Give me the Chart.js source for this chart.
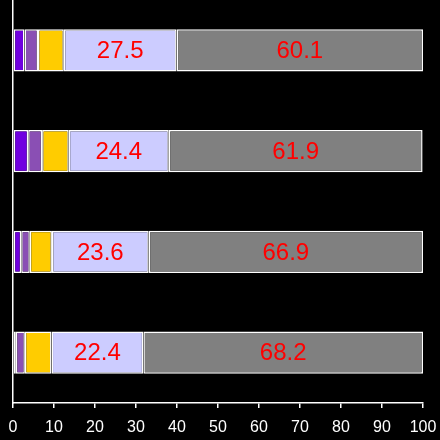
<!DOCTYPE html>
<html>
<head>
<meta charset="utf-8">
<script src="https://cdn.jsdelivr.net/npm/chart.js@4"></script>
<style>
  html, body { margin: 0; padding: 0; background: #000; }
  #wrap { width: 440px; height: 440px; }
</style>
</head>
<body>
<div id="wrap"><canvas id="chart"></canvas></div>
<script>
// categories (top to bottom), no visible labels in the picture
const categories = ['1', '2', '3', '4'];

// segment values per bar, left to right
const seriesA = [2.8, 3.7, 2.0, 0.7];
const seriesB = [3.3, 3.4, 2.1, 2.2];
const seriesC = [6.3, 6.5, 5.4, 6.5];
const seriesD = [27.5, 24.4, 23.6, 22.4];
const seriesE = [60.1, 61.9, 66.9, 68.2];

const xTicks = [0, 10, 20, 30, 40, 50, 60, 70, 80, 90, 100];

const colors = ['#7000e0', '#8a4fb4', '#ffcc00', '#ccccff', '#808080'];
const labelled = [false, false, false, true, true];

// draws the red numbers in the middle of the two big segments
const valueLabels = {
    id: 'valueLabels',
    afterDatasetsDraw(chart) {
        const ctx = chart.ctx;
        ctx.save();
        ctx.font = '24px "Liberation Sans", Arial, sans-serif';
        ctx.fillStyle = '#ff0000';
        ctx.textAlign = 'center';
        ctx.textBaseline = 'middle';
        chart.data.datasets.forEach((ds, i) => {
            if (!labelled[i]) return;
            chart.getDatasetMeta(i).data.forEach((bar, j) => {
                const p = bar.getProps(['x', 'y', 'base'], true);
                ctx.fillText(ds.data[j].toFixed(1), (p.x + p.base) / 2, p.y + 1);
            });
        });
        ctx.restore();
    }
};

const data = [seriesA, seriesB, seriesC, seriesD, seriesE];

new Chart(document.getElementById('chart'), {
    type: 'bar',
    data: {
        labels: categories,
        datasets: data.map((values, i) => ({
            data: values,
            backgroundColor: colors[i],
            borderColor: '#ffffff',
            borderWidth: 1.5,
            borderSkipped: false,
            barPercentage: 0.42,
            categoryPercentage: 1
        }))
    },
    options: {
        indexAxis: 'y',
        responsive: true,
        maintainAspectRatio: false,
        animation: false,
        layout: { padding: { left: 0, right: 17, top: 0, bottom: 0 } },
        plugins: {
            legend: { display: false },
            tooltip: { enabled: false }
        },
        scales: {
            x: {
                stacked: true,
                min: 0,
                max: 100,
                afterBuildTicks(scale) {
                    scale.ticks = xTicks.map(v => ({ value: v }));
                },
                afterFit(scale) {
                    scale.height = 37;
                    scale.paddingLeft = 0;
                    scale.paddingRight = 0;
                },
                grid: {
                    display: true,
                    drawOnChartArea: false,
                    drawTicks: true,
                    tickLength: 5,
                    color: '#ffffff',
                    lineWidth: 1.5
                },
                border: { display: true, color: '#ffffff', width: 1.5 },
                ticks: {
                    color: '#ffffff',
                    padding: 10,
                    maxRotation: 0,
                    font: { family: '"Liberation Sans", Arial, sans-serif', size: 16 }
                }
            },
            y: {
                stacked: true,
                grid: { display: false },
                border: { display: true, color: '#ffffff', width: 1.5 },
                ticks: { display: false },
                afterFit(scale) { scale.width = 13; }
            }
        }
    },
    plugins: [valueLabels]
});
</script>
</body>
</html>
